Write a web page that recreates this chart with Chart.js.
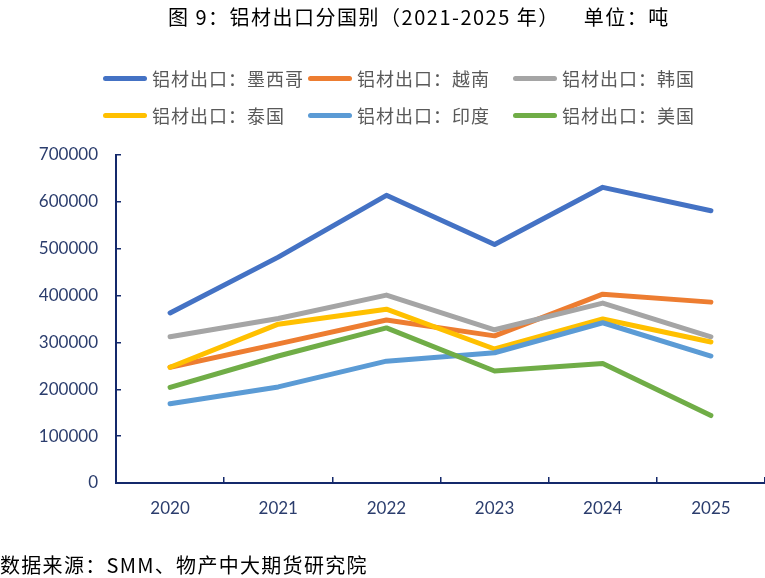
<!DOCTYPE html>
<html><head><meta charset="utf-8">
<script src="https://cdn.jsdelivr.net/npm/chart.js@4.4.0/dist/chart.umd.min.js"></script>
<style>
html,body{margin:0;padding:0;background:#fff;width:765px;height:578px;overflow:hidden;position:relative;}
#c{position:absolute;left:0;top:0;}
.title{position:absolute;top:3px;left:168px;font-family:"Noto Sans CJK SC";font-size:20px;line-height:28px;white-space:pre;color:#000;letter-spacing:1.5px;}
.leg{position:absolute;height:24px;font-family:"Noto Sans CJK SC";font-size:18px;line-height:24px;color:#595959;white-space:pre;display:flex;align-items:center;letter-spacing:1px;}
.leg i{display:inline-block;width:44px;height:5px;border-radius:3px;margin-right:5px;}
.foot{position:absolute;left:0;top:551px;font-family:"Noto Sans CJK SC";font-size:20px;line-height:28px;white-space:pre;color:#000;letter-spacing:1.3px;}
</style></head>
<body>
<canvas id="c" width="765" height="578"></canvas>
<div class="title">图 9：铝材出口分国别（2021-2025 年）    单位：吨</div>
<div class="foot">数据来源：SMM、物产中大期货研究院</div>
<script>
const categories = ['2020','2021','2022','2023','2024','2025'];
const mexico   = [363000, 482000, 614000, 509000, 631000, 581000];
const vietnam  = [247000, 297000, 348000, 314000, 403000, 386000];
const korea    = [312000, 351000, 401000, 327000, 384000, 312000];
const thailand = [247000, 339000, 371000, 286000, 350000, 301000];
const india    = [169000, 205000, 260000, 278000, 342000, 271000];
const usa      = [204000, 271000, 331000, 239000, 255000, 144000];
const seriesNames = ['铝材出口：墨西哥','铝材出口：越南','铝材出口：韩国','铝材出口：泰国','铝材出口：印度','铝材出口：美国'];
const seriesValues = [mexico, vietnam, korea, thailand, india, usa];
const seriesColors = ['#4472C4','#ED7D31','#A5A5A5','#FFC000','#5B9BD5','#70AD47'];
const yTicks = [0,100000,200000,300000,400000,500000,600000,700000];

// HTML legend
seriesNames.forEach((name, i) => {
  const d = document.createElement('div');
  d.className = 'leg';
  d.style.left = (103 + (i % 3) * 205) + 'px';
  d.style.top = (66 + Math.floor(i / 3) * 37) + 'px';
  const sw = document.createElement('i');
  sw.style.background = seriesColors[i];
  d.appendChild(sw);
  d.appendChild(document.createTextNode(name));
  document.body.appendChild(d);
});

const axisColor = '#14296B';
const labelColor = '#2B3D6D';
const tickFont = {family: 'Lato', size: 17};

new Chart(document.getElementById('c'), {
  type: 'line',
  data: {
    labels: categories,
    datasets: seriesValues.map((v, i) => ({
      label: seriesNames[i],
      data: v,
      borderColor: seriesColors[i],
      backgroundColor: seriesColors[i],
      borderWidth: 5,
      pointRadius: 0,
      tension: 0,
      borderCapStyle: 'round',
      borderJoinStyle: 'round',
      order: seriesValues.length - i
    }))
  },
  options: {
    responsive: false,
    devicePixelRatio: 1,
    animation: false,
    layout: {padding: {top: 155, left: 0, right: 0, bottom: 0}},
    plugins: {legend: {display: false}, title: {display: false}, tooltip: {enabled: false}},
    scales: {
      x: {
        offset: true,
        grid: {offset: true, drawOnChartArea: false, drawTicks: true, tickLength: -6, color: axisColor, lineWidth: 1.5},
        border: {display: true, color: axisColor, width: 2},
        ticks: {color: labelColor, font: tickFont, padding: 21, maxRotation: 0},
        afterFit: s => { s.height = 95; }
      },
      y: {
        min: 0, max: 700000,
        afterBuildTicks: s => { s.ticks = yTicks.map(v => ({value: v})); },
        grid: {drawOnChartArea: false, drawTicks: true, tickLength: -5, color: axisColor, lineWidth: 1.5},
        border: {display: true, color: axisColor, width: 2},
        ticks: {color: labelColor, font: tickFont, padding: 23, callback: v => String(v)},
        afterFit: s => { s.width = 116; }
      }
    }
  }
});
</script>
</body></html>
